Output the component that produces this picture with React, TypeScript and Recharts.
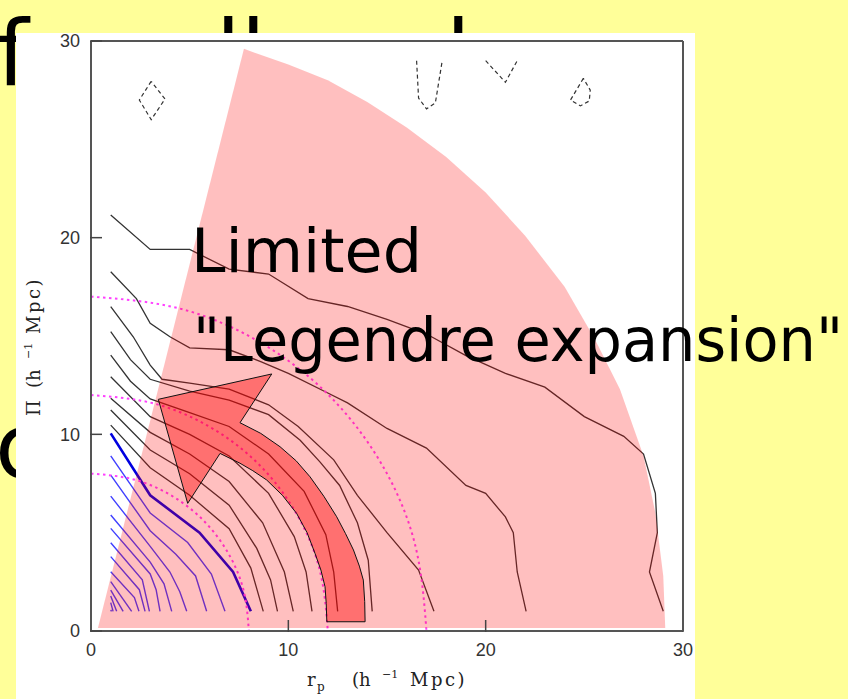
import React from "react";
import { Area, ComposedChart, Label, Line, Scatter, XAxis, YAxis } from "recharts";

type P = [number, number];

const majorTicks = [0, 10, 20, 30];
const minorTicks = [0, 2, 4, 6, 8, 10, 12, 14, 16, 18, 20, 22, 24, 26, 28, 30];

// inner (blue) contour levels, the thick one is the highlighted level
const blueThick: P[] = [[1, 10.05], [3, 6.9], [5.5, 5.0], [7.2, 3.0], [8.1, 1.0]];
const blueContours: P[][] = [
	[[1, 8.9], [3, 6.0], [4.9, 4.5], [6.1, 2.9], [6.79, 1]],
	[[1, 7.93], [3, 5.1], [4.3, 3.9], [5.3, 2.8], [5.86, 1]],
	[[1, 6.86], [3, 4.3], [4.0, 3.0], [4.5, 2.0], [4.85, 1]],
	[[1, 5.9], [3, 3.5], [3.7, 2.4], [4.09, 1]],
	[[1, 5.22], [3, 2.9], [3.3, 2.1], [3.5, 1]],
	[[1, 4.49], [2.6, 2.6], [2.96, 1]],
	[[1, 3.78], [2.45, 2.1], [2.74, 1]],
	[[1, 3.01], [2.2, 1.7], [2.43, 1]],
	[[1, 2.51], [2.06, 1]],
	[[1, 2.08], [1.63, 1]],
	[[1, 1.78], [1.3, 1]],
	[[1, 1.44], [1.12, 1]],
	[[1, 1.07], [1.04, 1]],
];

// outer (black) contour levels
const blackContours: P[][] = [
	[[1, 21.15], [3, 19.4], [5, 19.4], [7, 18.4], [9, 18.15], [11, 16.9], [13, 16.5], [15, 15.85], [17, 15.1], [19, 14.0], [21, 13.1], [23, 12.4], [25, 10.9], [27, 9.9], [28, 9.0], [28.6, 7.0], [28.7, 5.0], [28.3, 3.0], [29.0, 1.0]],
	[[1, 18.27], [2.3, 16.9], [3, 15.65], [4, 14.96], [5, 14.4], [7, 14.3], [8.6, 13.7], [10, 13.1], [12, 12.1], [13, 11.6], [15, 10.3], [17, 9.3], [19, 7.4], [20, 7.0], [21, 5.8], [21.4, 5.0], [21.6, 3.0], [22.05, 1.0]],
	[[1, 16.49], [2.14, 14.96], [3, 13.52], [3.6, 12.8], [5, 12.6], [7, 12.3], [9, 11.5], [10.5, 10.4], [12.3, 8.7], [13.5, 6.9], [15, 5.0], [16.6, 3.1], [17.38, 1.0]],
	[[1, 15.22], [2, 13.8], [3, 12.8], [5, 12.2], [7, 11.74], [9, 11.0], [10.6, 9.7], [11.6, 8.6], [12.6, 7.4], [13.5, 5.5], [14.05, 3.6], [14.25, 1.0]],
	[[1, 14.03], [2, 12.7], [3, 11.8], [5, 11.1], [7, 10.4], [9, 9.0], [10.8, 7.1], [11.9, 4.9], [12.3, 3.0], [12.5, 1.0]],
	[[1, 12.93], [3, 10.9], [5, 10.0], [7, 8.9], [9, 7.0], [10.3, 4.8], [10.9, 3.0], [11.2, 1.0]],
	[[1, 11.83], [3, 10.1], [5, 9.0], [7, 7.6], [8.7, 5.5], [9.8, 3.0], [10.25, 1.0]],
	[[1, 11.24], [3, 9.2], [5, 8.0], [7, 6.4], [8.4, 4.2], [9.1, 2.6], [9.45, 1.0]],
	[[1, 10.47], [3, 8.3], [5, 6.9], [7, 5.2], [8.1, 3.2], [8.73, 1.0]],
];

// small negative-level (dashed) contours near the top
const dashedContours: P[][] = [
	[[3.05, 27.95], [2.45, 27.0], [3.05, 26.0], [3.75, 27.05], [3.05, 27.95]],
	[[16.5, 29.0], [16.6, 27.1], [17.0, 26.55], [17.45, 26.85], [17.8, 29.0]],
	[[20.0, 29.0], [21.0, 27.9], [21.6, 29.0]],
	[[24.95, 28.1], [24.3, 27.0], [24.8, 26.7], [25.25, 26.95], [25.3, 27.5], [24.95, 28.1]],
];

// dotted circles of constant s
const circle8: P[] = [[0, 8], [2.07, 7.73], [4, 6.93], [5.66, 5.66], [6.93, 4], [7.73, 2.07], [8, 0]];
const circle12: P[] = [[0, 12], [3.1, 11.59], [6, 10.39], [8.49, 8.49], [10.39, 6], [11.59, 3.1], [12, 0]];
const circle17: P[] = [[0, 17], [4.4, 16.42], [8.5, 14.72], [12.02, 12.02], [14.72, 8.5], [16.42, 4.4], [17, 0]];

// shaded wedge (left edge, then outer arc)
const wedge: P[] = [
	[0.35, 0.15], [7.75, 29.6], [10, 28.8], [12, 28.0], [14, 26.9], [16, 25.6], [18, 24.1], [20, 22.3],
	[22, 20.1], [24, 17.5], [25.5, 14.9], [26.8, 12.3], [28, 8.9], [28.6, 6.0], [29.0, 2.8], [29.1, 0.15],
];

// curved arrow outline: inner edge up, head, outer edge down
const arrow: P[] = [
	[11.95, 0.47], [11.92, 1.4], [11.86, 2.25], [11.65, 3.1], [11.35, 3.95], [10.95, 5.0], [10.42, 5.98],
	[9.7, 6.9], [8.9, 7.68], [8.2, 8.15], [7.55, 8.53], [6.54, 9.03],
	[4.9, 6.49], [3.41, 11.78], [9.16, 13.07], [7.55, 10.59],
	[8.6, 10.05], [9.58, 9.37], [10.4, 8.65], [11.1, 7.84], [11.8, 6.85], [12.45, 5.81], [12.9, 4.95],
	[13.3, 4.12], [13.6, 3.3], [13.8, 2.59], [13.87, 1.5], [13.89, 0.47],
];

const xy = (pts: P[]) => pts.map(([x, y]) => ({ x, y }));

const axisStroke = { stroke: "#555", strokeWidth: 2 };
const tickStroke = { stroke: "#444", strokeWidth: 1.5 };
const tickText = { fill: "#333", fontSize: 18, fontFamily: "Liberation Sans" };
const serif = "DejaVu Serif";

function XTitle(props: any) {
	const vb = props.viewBox;
	const s = vb.x + vb.width / 2 - 80;
	const y = vb.y + 54;
	return (
		<text y={y} fontFamily={serif} fontSize={18} fill="#222">
			<tspan x={s}>r</tspan>
			<tspan x={s + 10} dy={5} fontSize={12}>p</tspan>
			<tspan x={s + 45} dy={-5}>(h</tspan>
			<tspan x={s + 75} dy={-8} fontSize={11}>−1</tspan>
			<tspan x={s + 103} dy={8} letterSpacing={2.5}>Mpc)</tspan>
		</text>
	);
}

function YTitle(props: any) {
	const vb = props.viewBox;
	const bx = vb.x + 10;
	const by = vb.y + vb.height / 2 + 80;
	return (
		<text y={by} fontFamily={serif} fontSize={18} fill="#222" transform={`rotate(-90 ${bx} ${by})`}>
			<tspan x={bx}>Π</tspan>
			<tspan x={bx + 28}>(h</tspan>
			<tspan x={bx + 57} dy={-8} fontSize={11}>−1</tspan>
			<tspan x={bx + 82} dy={8} letterSpacing={2.5}>Mpc)</tspan>
		</text>
	);
}

const noPoint = () => <g />;

const arrowShape = (p: any) => {
	const pts = p.points || [];
	const d = pts.map((q: any, i: number) => `${i ? "L" : "M"}${q.x},${q.y}`).join(" ") + " Z";
	return <path d={d} fill="#ff0000" fillOpacity={0.41} stroke="#111" strokeWidth={1} strokeLinejoin="round" />;
};

const lineBase = {
	xAxisId: "b1",
	yAxisId: "l1",
	dataKey: "y",
	type: "linear" as const,
	dot: false,
	activeDot: false,
	isAnimationActive: false,
	legendType: "none" as const,
};

// slide text behind the figure: only the part outside the white panel shows
const slideText: React.CSSProperties = {
	position: "absolute",
	fontFamily: "DejaVu Sans",
	fontSize: 90,
	lineHeight: "90px",
	color: "#000",
	whiteSpace: "pre",
	margin: 0,
};

export default function App() {
	return (
		<div style={{ position: "absolute", left: 0, top: 0, width: 848, height: 699, overflow: "hidden", background: "#ffff99" }}>
			<div
				style={{
					position: "absolute",
					left: 0,
					top: 0,
					width: 848,
					height: 699,
					clipPath: "polygon(0px 0px, 848px 0px, 848px 33px, 16px 33px, 16px 699px, 0px 699px)",
				}}
			>
				<div style={{ ...slideText, left: -3, top: 9 }}>f</div>
				<div style={{ ...slideText, left: 26, top: 9 }}>small scales</div>
				<div style={{ ...slideText, left: -5, top: 402 }}>c</div>
			</div>
			<div style={{ position: "absolute", left: 16, top: 33, width: 679, height: 666, background: "#ffffff" }} />
			<div style={{ position: "absolute", left: 0, top: 0 }}>
				<ComposedChart width={848} height={699} margin={{ top: 39, right: 163, bottom: 27, left: 30 }}>
					<XAxis xAxisId="b0" type="number" domain={[0, 30]} ticks={minorTicks} interval={0} allowDataOverflow height={1} tick={false} tickSize={-7} tickLine={tickStroke} axisLine={axisStroke} />
					<XAxis xAxisId="b1" type="number" dataKey="x" domain={[0, 30]} ticks={majorTicks} interval={0} allowDataOverflow height={40} tickSize={-12} tickMargin={23} tick={tickText} tickLine={tickStroke} axisLine={false} label={<Label content={XTitle} />} />
					<XAxis xAxisId="t0" orientation="top" type="number" domain={[0, 30]} ticks={minorTicks} interval={0} allowDataOverflow height={1} tick={false} tickSize={-7} tickLine={tickStroke} axisLine={axisStroke} />
					<XAxis xAxisId="t1" orientation="top" type="number" domain={[0, 30]} ticks={majorTicks} interval={0} allowDataOverflow height={1} tick={false} tickSize={-12} tickLine={tickStroke} axisLine={false} />
					<YAxis yAxisId="l0" type="number" domain={[0, 30]} ticks={minorTicks} interval={0} allowDataOverflow width={1} tick={false} tickSize={-7} tickLine={tickStroke} axisLine={axisStroke} />
					<YAxis yAxisId="l1" type="number" dataKey="y" domain={[0, 30]} ticks={majorTicks} interval={0} allowDataOverflow width={60} tickSize={-12} tickMargin={22} tick={tickText} tickLine={tickStroke} axisLine={false} label={<Label content={YTitle} />} />
					<YAxis yAxisId="r0" orientation="right" type="number" domain={[0, 30]} ticks={minorTicks} interval={0} allowDataOverflow width={1} tick={false} tickSize={-7} tickLine={tickStroke} axisLine={axisStroke} />
					<YAxis yAxisId="r1" orientation="right" type="number" domain={[0, 30]} ticks={majorTicks} interval={0} allowDataOverflow width={1} tick={false} tickSize={-12} tickLine={tickStroke} axisLine={false} />

					{blackContours.map((c, i) => (
						<Line key={`k${i}`} {...lineBase} data={xy(c)} stroke="#333" strokeWidth={1.3} zIndex={400} />
					))}
					{blueContours.map((c, i) => (
						<Line key={`u${i}`} {...lineBase} data={xy(c)} stroke="#4040ff" strokeWidth={1.4} zIndex={400} />
					))}
					<Line {...lineBase} data={xy(blueThick)} stroke="#0000e0" strokeWidth={2.6} zIndex={400} />
					{dashedContours.map((c, i) => (
						<Line key={`d${i}`} {...lineBase} data={xy(c)} stroke="#333" strokeWidth={1.2} strokeDasharray="4 3" zIndex={400} />
					))}
					{[circle8, circle12, circle17].map((c, i) => (
						<Line key={`c${i}`} {...lineBase} type="natural" data={xy(c)} stroke="#ff40ff" strokeWidth={2} strokeDasharray="2.5 3.5" zIndex={400} />
					))}

					<Area xAxisId="b1" yAxisId="l1" data={xy(wedge)} dataKey="y" type="linear" baseValue={0.15} stroke="none" fill="#ff0000" fillOpacity={0.25} dot={false} activeDot={false} isAnimationActive={false} legendType="none" zIndex={450} />
					<Scatter xAxisId="b1" yAxisId="l1" data={xy(arrow)} line={arrowShape} lineType="joint" shape={noPoint} isAnimationActive={false} legendType="none" zIndex={600} />
				</ComposedChart>
			</div>
			<svg width={848} height={699} style={{ position: "absolute", left: 0, top: 0, pointerEvents: "none" }}>
				<text x={191} y={272} fontFamily="DejaVu Sans" fontSize={60} fill="#000" textLength={231} lengthAdjust="spacingAndGlyphs">Limited</text>
				<text x={193} y={361} fontFamily="DejaVu Sans" fontSize={60} fill="#000" textLength={650} lengthAdjust="spacingAndGlyphs">{'"Legendre expansion"'}</text>
			</svg>
		</div>
	);
}
